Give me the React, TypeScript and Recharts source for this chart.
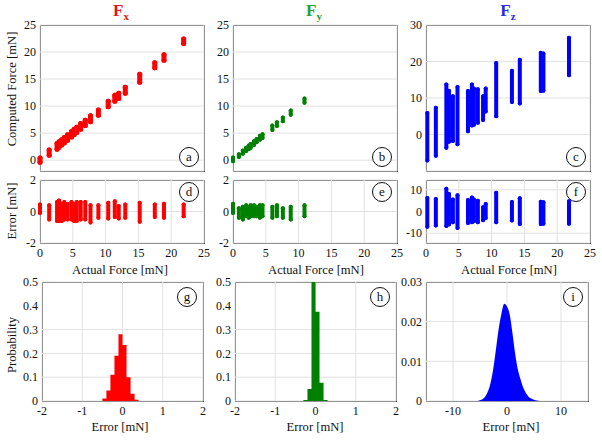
import { Area, CartesianGrid, ComposedChart, ErrorBar, Scatter, XAxis, YAxis } from "recharts";

const FONT = '"Liberation Serif", "DejaVu Serif", serif';
const FRAME = "#444";
const GRID = "#e2e2e2";

// shared tick labels
const forceTicks = [0, 5, 10, 15, 20, 25];
const fzTicks = [-10, 0, 10, 20, 30];
const errTicksXY = [-2, 0, 2];
const errTicksZ = [-10, 0, 10];
const probTicks = [0, 0.1, 0.2, 0.3, 0.4, 0.5];
const probTicksZ = [0, 0.01, 0.02, 0.03];
const histTicksXY = [-2, -1, 0, 1, 2];
const histTicksZ = [-10, 0, 10];

// Fx: actual force vs computed force (each streak = low..high), and error streaks
const fxActual = [0, 1.4, 2.6, 2.9, 3.3, 3.7, 4.2, 4.8, 5.2, 5.6, 6.2, 6.9, 7.7, 8.9, 10.4, 11.4, 12.0, 13.0, 15.2, 17.5, 18.9, 21.9];
const fxCompLow = [-0.4, 0.9, 2.0, 2.4, 2.8, 3.2, 3.7, 4.3, 4.7, 5.1, 5.7, 6.4, 7.1, 8.3, 9.9, 10.9, 11.4, 12.4, 14.4, 17.1, 18.5, 21.6];
const fxCompHigh = [0.4, 1.9, 3.1, 3.4, 3.8, 4.2, 4.7, 5.3, 5.7, 6.1, 6.8, 7.4, 8.2, 9.3, 10.9, 12.0, 12.4, 13.5, 15.9, 18.0, 19.5, 22.4];
const fxErrLow = [-0.1, -0.5, -0.6, -0.6, -0.6, -0.5, -0.5, -0.5, -0.6, -0.6, -0.5, -0.5, -0.7, -0.4, -0.45, -0.35, -0.45, -0.4, -0.65, -0.35, -0.4, -0.3];
const fxErrHigh = [0.45, 0.4, 0.6, 0.7, 0.5, 0.6, 0.5, 0.6, 0.5, 0.6, 0.6, 0.6, 0.4, 0.4, 0.55, 0.65, 0.35, 0.45, 0.55, 0.45, 0.5, 0.45];

// Fy
const fyActual = [0, 0.9, 1.5, 2.0, 2.4, 2.7, 3.2, 3.6, 4.1, 4.5, 6.0, 6.7, 7.6, 8.8, 10.9];
const fyCompLow = [-0.2, 0.6, 1.2, 1.7, 2.0, 2.3, 2.8, 3.3, 3.8, 4.1, 5.6, 6.3, 7.2, 8.4, 10.6];
const fyCompHigh = [0.5, 1.1, 1.8, 2.3, 2.7, 3.0, 3.5, 3.9, 4.5, 4.8, 6.4, 7.0, 7.9, 9.2, 11.4];
const fyErrLow = [-0.1, -0.4, -0.5, -0.3, -0.4, -0.3, -0.3, -0.3, -0.4, -0.3, -0.4, -0.3, -0.4, -0.5, -0.3];
const fyErrHigh = [0.5, 0.2, 0.3, 0.4, 0.3, 0.4, 0.4, 0.3, 0.4, 0.4, 0.3, 0.4, 0.2, 0.3, 0.4];

// Fz
const fzActual = [0.2, 1.5, 3.1, 3.5, 4.1, 4.8, 6.4, 7.0, 7.3, 7.9, 8.7, 9.1, 10.7, 13.1, 14.3, 17.5, 17.9, 21.8];
const fzCompLow = [-7.1, -5.8, -3.6, -2.0, -1.8, -2.7, 0.9, 2.5, 2.7, 3.2, 4.0, 6.3, 5.0, 8.9, 8.5, 11.9, 12.0, 16.2];
const fzCompHigh = [5.9, 7.3, 13.7, 12.0, 10.5, 13.0, 11.9, 13.7, 12.6, 12.4, 10.5, 12.6, 19.6, 17.5, 20.5, 22.4, 22.2, 26.5];
const fzErrLow = [-7.0, -6.4, -6.7, -6.0, -5.0, -7.6, -5.3, -5.0, -4.5, -5.0, -4.0, -3.0, -5.0, -4.1, -5.8, -5.8, -5.6, -5.6];
const fzErrHigh = [6.2, 5.8, 10.5, 8.0, 5.5, 7.5, 5.3, 6.5, 5.5, 5.0, 2.0, 3.5, 8.6, 4.4, 6.1, 4.5, 4.3, 4.7];

// error histograms
const gBins = [-0.55, -0.45, -0.35, -0.25, -0.15, -0.05, 0.05, 0.15, 0.25, 0.35, 0.45];
const gProb = [0, 0.01, 0.044, 0.11, 0.19, 0.28, 0.235, 0.1, 0.03, 0.005, 0];
const hBins = [-0.35, -0.25, -0.15, -0.05, 0.05, 0.15, 0.25, 0.35];
const hProb = [0, 0.004, 0.05, 0.53, 0.375, 0.077, 0.004, 0];
const iBins = [-6, -5.5, -5, -4.5, -4, -3.5, -3, -2.5, -2, -1.5, -1, -0.5, 0, 0.5, 1, 1.5, 2, 2.5, 3, 3.5, 4, 4.5, 5, 5.5, 6];
const iProb = [0, 0, 0.0002, 0.0005, 0.0012, 0.0025, 0.0048, 0.0085, 0.0135, 0.0185, 0.0222, 0.0245, 0.0238, 0.0218, 0.0172, 0.012, 0.008, 0.0055, 0.0034, 0.002, 0.0011, 0.0006, 0.0003, 0.0001, 0];

type Box = { left: number; top: number; width: number; height: number };

const ML = 4;
const MT = 8;
const MR = 10;
const MB = 4;
const YW = 32;

const tickStyle = { fontSize: 12, fill: "#111", fontFamily: FONT };

function place(box: Box, xh: number) {
  return {
    left: box.left - YW - ML,
    top: box.top - MT,
    width: ML + YW + box.width + MR,
    height: MT + box.height + xh + MB,
  };
}

function Frame({ box }: { box: Box }) {
  return (
    <div
      style={{
        position: "absolute",
        left: box.left,
        top: box.top,
        width: box.width + 1,
        height: box.height + 1,
        border: `1px solid ${FRAME}`,
        boxSizing: "border-box",
        pointerEvents: "none",
      }}
    />
  );
}

function StreakPanel({
  box, xs, lo, hi, color, lw, yDomain, yTicks, showX,
}: {
  box: Box; xs: number[]; lo: number[]; hi: number[]; color: string; lw: number;
  yDomain: [number, number]; yTicks: number[]; showX: boolean;
}) {
  const data = xs.map((x, i) => ({ x, y: lo[i], span: [0, hi[i] - lo[i]] }));
  const xh = showX ? 20 : 1;
  const p = place(box, xh);
  return (
    <>
      <Frame box={box} />
      <div style={{ position: "absolute", left: p.left, top: p.top }}>
        <ComposedChart width={p.width} height={p.height} margin={{ top: MT, right: MR, bottom: MB, left: ML }}>
          <CartesianGrid stroke={GRID} />
          <XAxis
            type="number" dataKey="x" domain={[0, 25]} ticks={forceTicks} height={xh}
            tick={showX ? tickStyle : false} axisLine={false} tickLine={false} tickSize={3} tickMargin={2}
          />
          <YAxis
            type="number" dataKey="y" domain={yDomain} ticks={yTicks} width={YW} allowDataOverflow
            tick={tickStyle} axisLine={false} tickLine={false} tickSize={2} tickMargin={2}
          />
          <Scatter data={data} fill={color} isAnimationActive={false} shape={() => <g />}>
            <ErrorBar
              dataKey="span" direction="y" width={0} stroke={color} strokeWidth={lw}
              strokeLinecap="round" isAnimationActive={false}
            />
          </Scatter>
        </ComposedChart>
      </div>
    </>
  );
}

function HistPanel({
  box, bins, prob, color, xDomain, xTicks, yDomain, yTicks, curve,
}: {
  box: Box; bins: number[]; prob: number[]; color: string; xDomain: [number, number]; xTicks: number[];
  yDomain: [number, number]; yTicks: number[]; curve: "step" | "monotone";
}) {
  const data = bins.map((x, i) => ({ x, p: prob[i] }));
  const xh = 20;
  const pl = place(box, xh);
  return (
    <>
      <Frame box={box} />
      <div style={{ position: "absolute", left: pl.left, top: pl.top }}>
        <ComposedChart width={pl.width} height={pl.height} data={data} margin={{ top: MT, right: MR, bottom: MB, left: ML }}>
          <CartesianGrid stroke={GRID} />
          <XAxis
            type="number" dataKey="x" domain={xDomain} ticks={xTicks} height={xh} allowDataOverflow
            tick={tickStyle} axisLine={false} tickLine={false} tickSize={3} tickMargin={2}
          />
          <YAxis
            type="number" domain={yDomain} ticks={yTicks} width={YW} allowDataOverflow
            tick={tickStyle} axisLine={false} tickLine={false} tickSize={2} tickMargin={2}
          />
          <Area
            type={curve} dataKey="p" baseValue={0} fill={color} fillOpacity={1} stroke="none"
            isAnimationActive={false}
          />
        </ComposedChart>
      </div>
    </>
  );
}

function Circled({ cx, cy, letter }: { cx: number; cy: number; letter: string }) {
  return (
    <div
      style={{
        position: "absolute", left: cx - 10, top: cy - 10, width: 20, height: 20, borderRadius: "50%",
        border: "1px solid #111", boxSizing: "border-box", background: "#fff", fontSize: 13,
        lineHeight: "17px", textAlign: "center", color: "#111",
      }}
    >
      {letter}
    </div>
  );
}

function Title({ cx, color, sub }: { cx: number; color: string; sub: string }) {
  return (
    <div
      style={{
        position: "absolute", left: cx - 30, width: 60, top: 1, textAlign: "center",
        fontWeight: "bold", fontSize: 17, color,
      }}
    >
      F<sub style={{ fontSize: 11 }}>{sub}</sub>
    </div>
  );
}

function Label({ cx, cy, text, rotate }: { cx: number; cy: number; text: string; rotate?: boolean }) {
  return (
    <div
      style={{
        position: "absolute", left: cx, top: cy, whiteSpace: "nowrap", fontSize: 12.6, color: "#111",
        transform: `translate(-50%, -50%)${rotate ? " rotate(-90deg)" : ""}`,
      }}
    >
      {text}
    </div>
  );
}

const colLeft = [40, 233, 426];
const topRow = (i: number): Box => ({ left: colLeft[i], top: 25, width: 164, height: 146 });
const errRow = (i: number): Box => ({ left: colLeft[i], top: 180, width: 164, height: 63 });
const histRow: Box[] = [
  { left: 42, top: 282, width: 161, height: 119 },
  { left: 235, top: 282, width: 161, height: 119 },
  { left: 426, top: 282, width: 162, height: 119 },
];

export default function App() {
  return (
    <div
      style={{
        position: "absolute", left: 0, top: 0, width: 602, height: 440, background: "#fff",
        fontFamily: FONT, overflow: "hidden",
      }}
    >
      <Title cx={121} color="#e8141c" sub="x" />
      <Title cx={314} color="#22a03a" sub="y" />
      <Title cx={508} color="#2a2ae6" sub="z" />

      <StreakPanel box={topRow(0)} xs={fxActual} lo={fxCompLow} hi={fxCompHigh} color="#ff0000" lw={5} yDomain={[-2, 25]} yTicks={forceTicks} showX={false} />
      <StreakPanel box={topRow(1)} xs={fyActual} lo={fyCompLow} hi={fyCompHigh} color="#008000" lw={4} yDomain={[-2, 25]} yTicks={forceTicks} showX={false} />
      <StreakPanel box={topRow(2)} xs={fzActual} lo={fzCompLow} hi={fzCompHigh} color="#0000ff" lw={4} yDomain={[-10, 30]} yTicks={fzTicks} showX={false} />

      <StreakPanel box={errRow(0)} xs={fxActual} lo={fxErrLow} hi={fxErrHigh} color="#ff0000" lw={4} yDomain={[-2, 2]} yTicks={errTicksXY} showX />
      <StreakPanel box={errRow(1)} xs={fyActual} lo={fyErrLow} hi={fyErrHigh} color="#008000" lw={4} yDomain={[-2, 2]} yTicks={errTicksXY} showX />
      <StreakPanel box={errRow(2)} xs={fzActual} lo={fzErrLow} hi={fzErrHigh} color="#0000ff" lw={4} yDomain={[-14.5, 14.5]} yTicks={errTicksZ} showX />

      <HistPanel box={histRow[0]} bins={gBins} prob={gProb} color="#ff0000" xDomain={[-2, 2]} xTicks={histTicksXY} yDomain={[0, 0.5]} yTicks={probTicks} curve="step" />
      <HistPanel box={histRow[1]} bins={hBins} prob={hProb} color="#008000" xDomain={[-2, 2]} xTicks={histTicksXY} yDomain={[0, 0.5]} yTicks={probTicks} curve="step" />
      <HistPanel box={histRow[2]} bins={iBins} prob={iProb} color="#0000ff" xDomain={[-15, 15]} xTicks={histTicksZ} yDomain={[0, 0.03]} yTicks={probTicksZ} curve="monotone" />

      <Circled cx={189} cy={157} letter="a" />
      <Circled cx={382} cy={157} letter="b" />
      <Circled cx={576} cy={157} letter="c" />
      <Circled cx={189} cy={192} letter="d" />
      <Circled cx={382} cy={192} letter="e" />
      <Circled cx={576} cy={192} letter="f" />
      <Circled cx={187} cy={297} letter="g" />
      <Circled cx={380} cy={297} letter="h" />
      <Circled cx={573} cy={297} letter="i" />

      <Label cx={12} cy={89} text="Computed Force [mN]" rotate />
      <Label cx={12} cy={211} text="Error [mN]" rotate />
      <Label cx={12} cy={345} text="Probability" rotate />

      <Label cx={120} cy={270} text="Actual Force [mN]" />
      <Label cx={316} cy={270} text="Actual Force [mN]" />
      <Label cx={509} cy={270} text="Actual Force [mN]" />
      <Label cx={120} cy={427} text="Error [mN]" />
      <Label cx={315} cy={427} text="Error [mN]" />
      <Label cx={511} cy={427} text="Error [mN]" />
    </div>
  );
}
